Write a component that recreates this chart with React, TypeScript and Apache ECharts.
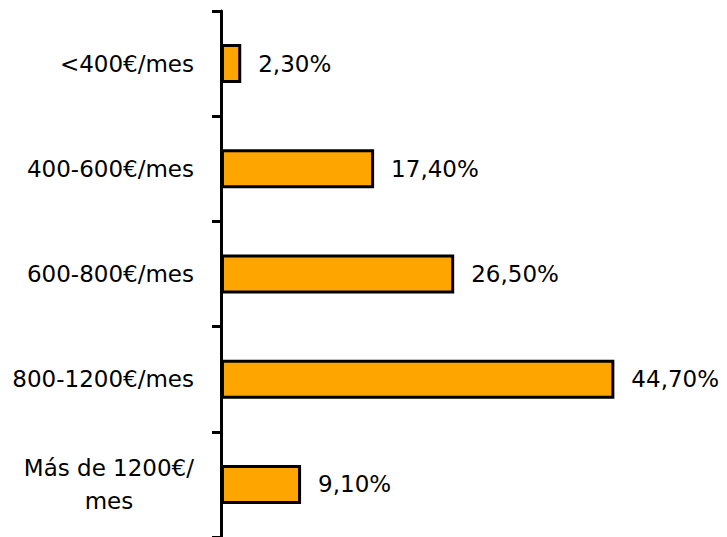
import React, { useEffect, useRef } from "react";
import * as echarts from "echarts";

const categories = ["<400€/mes", "400-600€/mes", "600-800€/mes", "800-1200€/mes", "Más de 1200€/\nmes"];
const values = [2.3, 17.4, 26.5, 44.7, 9.1];

const FONT = "DejaVu Sans";

export default function App() {
  const ref = useRef<HTMLDivElement>(null);
  useEffect(() => {
    if (!ref.current) return;
    const chart = echarts.init(ref.current, null, { renderer: "svg" });
    chart.setOption({
      animation: false,
      backgroundColor: "#ffffff",
      grid: { left: 221, top: 11, right: 66, bottom: 0, containLabel: false },
      xAxis: {
        type: "value",
        min: 0,
        max: 50,
        show: false,
      },
      yAxis: {
        type: "category",
        data: categories,
        inverse: true,
        axisLine: { show: true, lineStyle: { color: "#000", width: 3 } },
        axisTick: { show: true, length: 9, lineStyle: { color: "#000", width: 3 } },
        axisLabel: {
          margin: 27,
          fontFamily: FONT,
          fontSize: 23,
          color: "#000",
          lineHeight: 33,
          formatter: (v: string) =>
            v.includes("\n")
              ? v
                  .split("\n")
                  .map((s) => `{c|${s}}`)
                  .join("\n")
              : v,
          rich: {
            c: { align: "center", fontFamily: FONT, fontSize: 23, color: "#000", lineHeight: 33 },
          },
        },
        splitLine: { show: false },
      },
      series: [
        {
          type: "bar",
          data: values,
          barWidth: 39,
          itemStyle: { color: "#FFA500", borderColor: "#000", borderWidth: 3 },
          label: {
            show: true,
            position: "right",
            distance: 17,
            fontFamily: FONT,
            fontSize: 23,
            color: "#000",
            formatter: (p: any) => p.value.toFixed(2).replace(".", ",") + "%",
          },
        },
      ],
    });
    return () => chart.dispose();
  }, []);
  return (
    <div
      ref={ref}
      style={{ position: "fixed", left: 0, top: 0, width: 727, height: 537 }}
    />
  );
}
